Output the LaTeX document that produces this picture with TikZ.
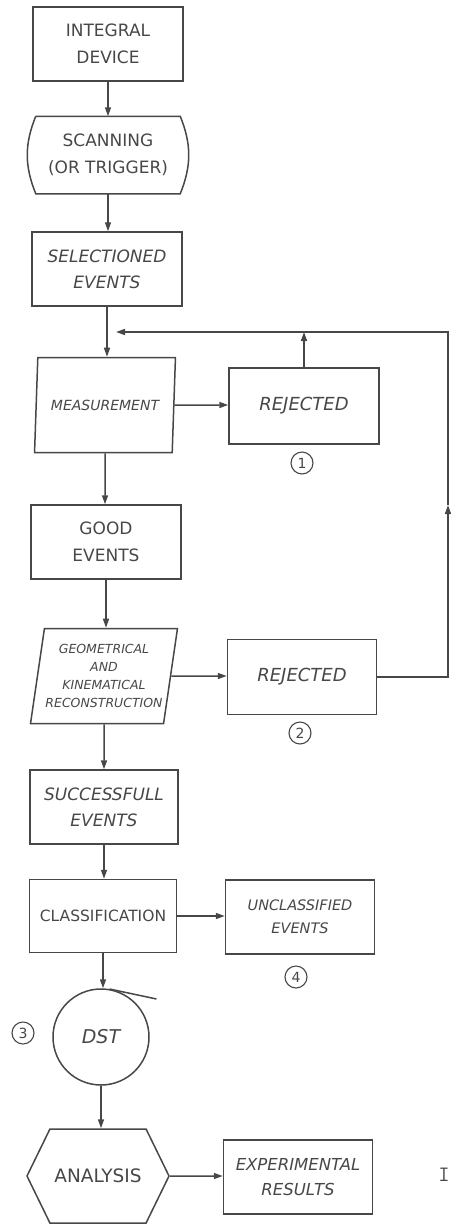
\documentclass[tikz,border=0pt]{standalone}
\usepackage{fontspec}
\setsansfont{DejaVu Sans}
\usepackage{tikz}
\usetikzlibrary{positioning, arrows.meta, shapes.geometric, shapes.symbols}
\definecolor{ink}{HTML}{474747}

\begin{document}
\begin{tikzpicture}[x=1pt, y=-1pt]
\tikzstyle{box}=[draw=ink, line width=1.5pt, text=ink, minimum width=150pt, minimum height=74pt,
align=center, inner sep=2pt, font=\sffamily\fontsize{17}{27}\selectfont]
\tikzstyle{tilt}=[font=\sffamily\itshape\fontsize{17}{26}\selectfont]
\tikzstyle{slantbox}=[trapezium, trapezium left angle=78, trapezium right angle=102, trapezium stretches=true,
draw=ink, line width=1.5pt, text=ink, minimum width=141pt, minimum height=95pt, align=center, inner sep=1pt]
\tikzstyle{hexbox}=[signal, signal to=east and west, signal pointer angle=128, draw=ink, line width=1.5pt,
text=ink, minimum width=142pt, minimum height=94pt, inner sep=1pt, font=\sffamily\fontsize{18.5}{20}\selectfont]
\tikzstyle{numc}=[circle, draw=ink, line width=1.1pt, text=ink, inner sep=0pt, minimum size=22pt,
font=\sffamily\fontsize{14}{14}\selectfont]
\tikzstyle{flow}=[draw=ink, line width=1.5pt, -{Triangle[length=9pt, width=6pt]}]
\tikzstyle{line}=[draw=ink, line width=1.5pt]

\useasboundingbox (0,0) rectangle (450,1224);

% main column
\node (integ) [box] at (108,44) {INTEGRAL\\DEVICE};
\node (scan) [box, draw=none, minimum width=143pt, minimum height=76pt] at (108,155) {SCANNING\\(OR TRIGGER)};
\node (sel) [box, tilt] at (107,269) {SELECTIONED\\EVENTS};
\node (meas) [slantbox, font=\sffamily\itshape\fontsize{14}{15}\selectfont] at (105,405) {MEASUREMENT};
\node (good) [box] at (106,542) {GOOD\\EVENTS};
\node (geom) [slantbox, font=\sffamily\itshape\fontsize{12.5}{18}\selectfont] at (104,676)
  {GEOMETRICAL\\AND\\KINEMATICAL\\RECONSTRUCTION};
\node (succ) [box, tilt, minimum width=148pt] at (104,807) {SUCCESSFULL\\EVENTS};
\node (clas) [box, minimum width=147pt, minimum height=73pt, font=\sffamily\fontsize{15.5}{20}\selectfont]
  at (103,916) {CLASSIFICATION};
\node (dst) [circle, draw=ink, line width=1.5pt, text=ink, minimum size=96pt, font=\sffamily\itshape\fontsize{19}{20}\selectfont]
  at (101,1037) {DST};
\node (anal) [hexbox] at (98,1176) {ANALYSIS};

% side column
\node (rej1) [box, tilt, minimum height=76pt, font=\sffamily\itshape\fontsize{18}{20}\selectfont] at (304,406) {REJECTED};
\node (rej2) [box, tilt, minimum width=149pt, minimum height=75pt, font=\sffamily\itshape\fontsize{18}{20}\selectfont]
  at (302,677) {REJECTED};
\node (uncl) [box, tilt, minimum width=149pt, font=\sffamily\itshape\fontsize{14.5}{23}\selectfont] at (300,917)
  {UNCLASSIFIED\\EVENTS};
\node (expr) [box, tilt, minimum width=149pt, font=\sffamily\itshape\fontsize{16.5}{25}\selectfont] at (298,1177)
  {EXPERIMENTAL\\RESULTS};

% numbers
\node (n1) [numc] at (302,463) {1};
\node (n2) [numc] at (300,733) {2};
\node (n3) [numc] at (23,1033) {3};
\node (n4) [numc] at (296,977) {4};

\node (cut) [text=ink, font=\ttfamily\fontsize{22}{22}\selectfont] at (444,1175) {I};

% scanning outline
\draw[line] (scan.north west) -- (scan.north east) to[bend left=22] (scan.south east)
  -- (scan.south west) to[bend left=22] (scan.north west);

% tape tail
\draw[line] (dst.80) -- ++(-12:48pt);

% connections
\foreach \a/\b in {integ/scan, scan/sel, sel/meas, meas/good, good/geom, geom/succ, succ/clas, clas/dst, dst/anal}
  \draw[flow] (\a) -- (\a |- \b.north);
\draw[flow] (meas) -- (meas -| rej1.west);
\draw[flow] (geom) -- (geom -| rej2.west);
\draw[flow] (clas) -- (clas -| uncl.west);
\draw[flow] (anal) -- (anal -| expr.west);

% return loop
\coordinate (join1) at (107,332);
\coordinate (join2) at (rej1 |- join1);
\coordinate (loopR) at (448,332);
\coordinate (loopM) at (448,505);
\draw[flow] (rej2) -- (rej2 -| loopR) -- (loopM);
\draw[line] (loopM) -- (loopR) -- (join2);
\draw[flow, shorten >=9pt] (join2) -- (join1);
\draw[flow] (rej1) -- (join2);

\end{tikzpicture}
\end{document}
